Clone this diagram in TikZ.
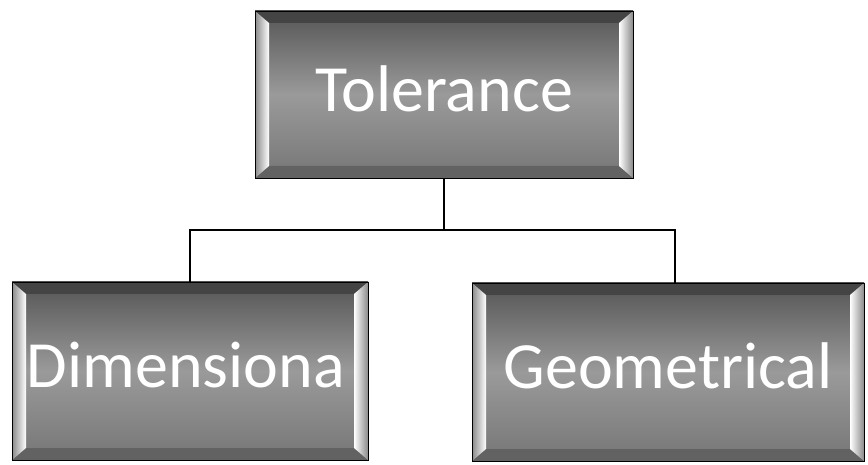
\documentclass[tikz,border=0pt]{standalone}
\usepackage{fontspec}
\newfontfamily\boxfont{Carlito}
\usetikzlibrary{calc}
\definecolor{facetop}{HTML}{555555}
\definecolor{facemid}{HTML}{9A9A9A}
\definecolor{facebot}{HTML}{767676}
\definecolor{bevtop}{HTML}{444444}
\definecolor{bevside}{HTML}{8A8A8A}
\definecolor{bevbot}{HTML}{626262}
\tikzset{
  bevelbox/.style={draw=black, line width=0.8pt, text=white,
    font=\boxfont\fontsize{66}{70}\selectfont, text depth=12pt, inner xsep=15pt,
    path picture={
      \path (path picture bounding box.south west) coordinate (bsw)
            (path picture bounding box.north east) coordinate (bne);
      \shade[top color=facetop, bottom color=facebot, middle color=facemid] (bsw) rectangle (bne);
      % top and bottom bevel
      \fill[bevtop] (bsw|-bne) -- (bne) -- ($(bne)+(-14pt,-12pt)$) -- ($(bsw|-bne)+(14pt,-12pt)$) -- cycle;
      \fill[bevbot] (bsw) -- (bsw-|bne) -- ($(bsw-|bne)+(-14pt,12pt)$) -- ($(bsw)+(14pt,12pt)$) -- cycle;
      % side bevels
      \shade[left color=bevside, right color=white] (bsw) -- (bsw|-bne) -- ($(bsw|-bne)+(14pt,-12pt)$) -- ($(bsw)+(14pt,12pt)$) -- cycle;
      \shade[left color=white, right color=bevside] (bne) -- (bsw-|bne) -- ($(bsw-|bne)+(-14pt,12pt)$) -- ($(bne)+(-14pt,-12pt)$) -- cycle;
    }},
  link/.style={draw=black, line width=1.2pt}
}
\begin{document}
\begin{tikzpicture}[x=1pt,y=1pt]
\useasboundingbox (0,0) rectangle (868,464);
\node[bevelbox, minimum width=378pt, minimum height=167pt] (tol) at (444,369.5) {Tolerance};
\node[bevelbox, minimum width=356pt, minimum height=178pt, text width=326pt, align=left] (dim) at (190,93) {Dimensiona};
\node[bevelbox, minimum width=392pt, minimum height=178pt] (geo) at (668,92) {Geometrical};
\coordinate (bus) at (444,234);
\draw[link] (tol.south) -- (bus) -| (dim.north);
\draw[link] (bus) -| ([xshift=7pt]geo.north);
\end{tikzpicture}
\end{document}
